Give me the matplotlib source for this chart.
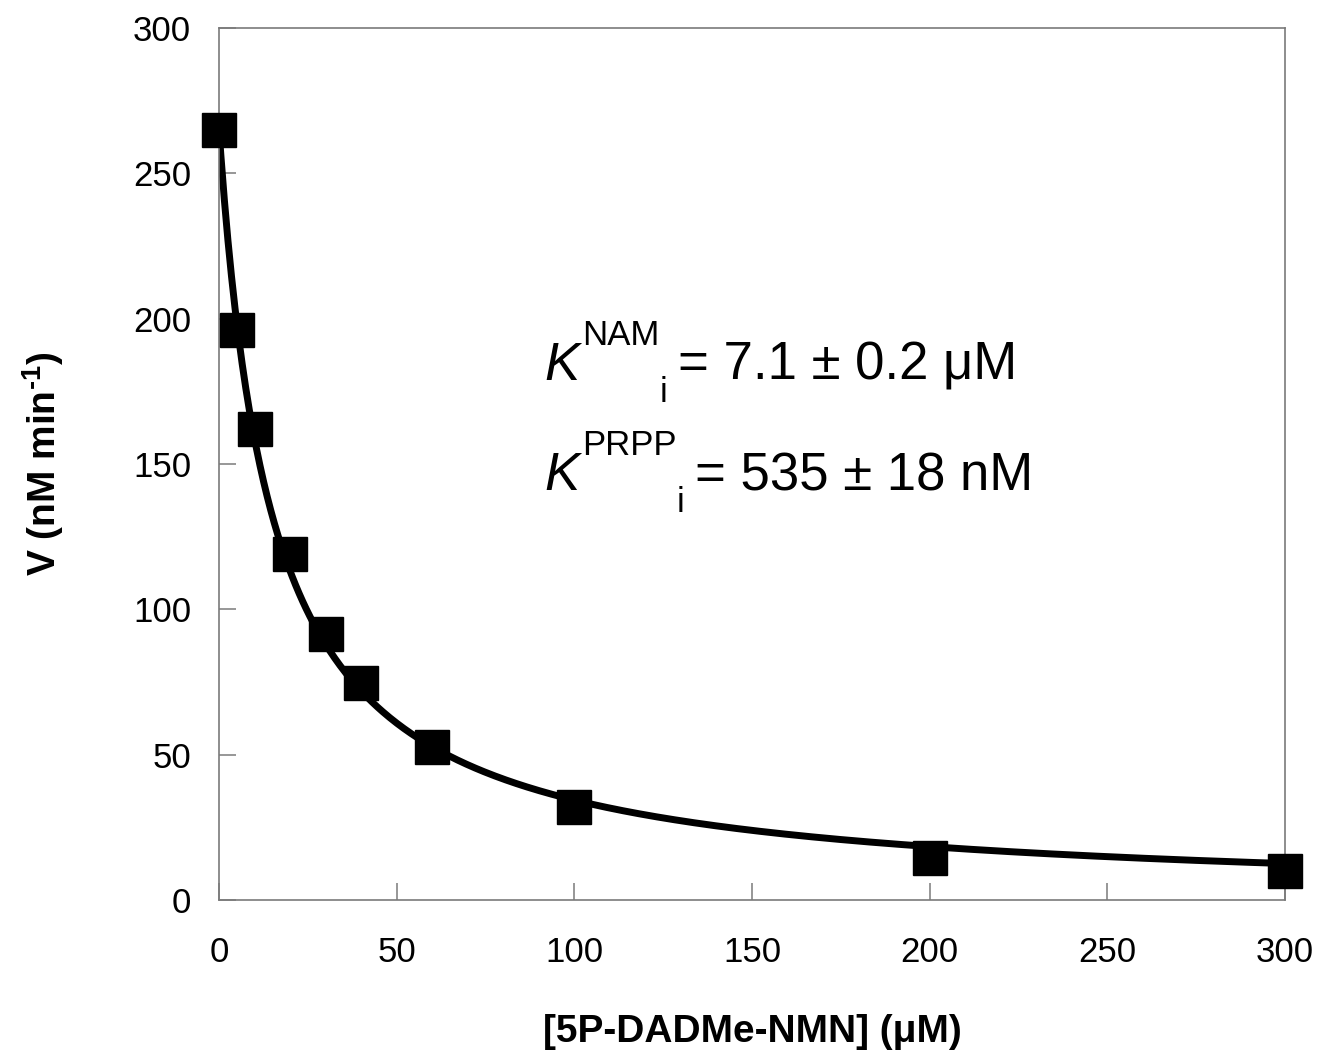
import matplotlib
matplotlib.use("Agg")
import matplotlib.pyplot as plt
import numpy as np

plt.rcParams['font.family'] = ['Liberation Sans', 'DejaVu Sans']
plt.rcParams['mathtext.fontset'] = 'custom'
plt.rcParams['mathtext.rm'] = 'Liberation Sans:bold'
plt.rcParams['mathtext.it'] = 'Liberation Sans:italic'
plt.rcParams['mathtext.bf'] = 'Liberation Sans:bold'

# inhibitor concentration (uM) and measured rate (nM/min)
conc = [0, 5, 10, 20, 30, 40, 60, 100, 200, 300]
rate = [265, 196, 162, 119, 91.5, 74.5, 52.5, 32, 14.5, 10]

# fitted hyperbolic inhibition curve parameters
v0_fit = 265.0
ki_app = 14.9

x_ticks = [0, 50, 100, 150, 200, 250, 300]
y_ticks = [0, 50, 100, 150, 200, 250, 300]

fig = plt.figure(figsize=(13.18, 10.52), dpi=100)
ax = fig.add_axes([0.1662, 0.1445, 0.8088, 0.8289])

xf = np.linspace(0, 300, 600)
ax.plot(xf, v0_fit / (1 + xf / ki_app), color='black', lw=5, zorder=2)
ax.plot(conc, rate, 's', color='black', ms=24, zorder=3, clip_on=False)

ax.set_xlim(0, 300)
ax.set_ylim(0, 300)
ax.set_xticks(x_ticks)
ax.set_yticks(y_ticks)

for s in ax.spines.values():
    s.set_color('#7a7a7a')
    s.set_linewidth(1.2)
ax.tick_params(direction='in', length=12, width=1.1, color='#7a7a7a',
               labelsize=25, top=False, right=False)
ax.tick_params(axis='x', pad=26)
ax.tick_params(axis='y', pad=20)

ax.set_xlabel('[5P-DADMe-NMN] (μM)', fontsize=28, fontweight='bold', labelpad=32)
ax.set_ylabel(r'V (nM min$^{\text{-1}}$)', fontsize=28, fontweight='bold', labelpad=48)


def ki_label(y, sup, rest):
    # italic K with stacked-offset superscript and subscript, then the value
    k = ax.text(91.5, y, 'K', style='italic', fontsize=38, va='baseline')
    s = ax.annotate(sup, xy=(1, 0), xycoords=(k, k), xytext=(2, 28),
                    textcoords='offset points', fontsize=25, va='bottom')
    i = ax.annotate('i', xy=(1, 0), xycoords=(s, k), xytext=(0, -13),
                    textcoords='offset points', fontsize=25, va='bottom')
    ax.annotate(rest, xy=(1, 0), xycoords=(i, k), xytext=(8, 0),
                textcoords='offset points', fontsize=38, va='bottom')


ki_label(179, 'NAM', '= 7.1 ± 0.2 μM')
ki_label(141, 'PRPP', '= 535 ± 18 nM')

fig.savefig('out.png', dpi=100)
